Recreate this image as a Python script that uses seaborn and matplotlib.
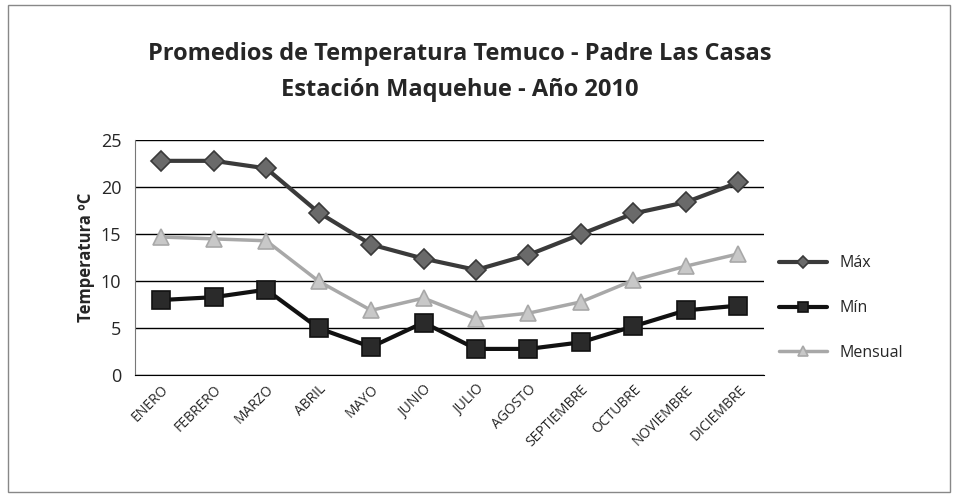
import matplotlib
matplotlib.use("Agg")
import matplotlib.pyplot as plt
import pandas as pd
import seaborn as sns
from matplotlib.patches import Rectangle

# Data
meses = ['ENERO', 'FEBRERO', 'MARZO', 'ABRIL', 'MAYO', 'JUNIO', 'JULIO',
         'AGOSTO', 'SEPTIEMBRE', 'OCTUBRE', 'NOVIEMBRE', 'DICIEMBRE']
t_max = [22.8, 22.8, 22.0, 17.3, 13.9, 12.4, 11.2, 12.8, 15.0, 17.2, 18.4, 20.5]
t_min = [8.0, 8.3, 9.1, 5.0, 3.0, 5.6, 2.8, 2.8, 3.5, 5.2, 6.9, 7.4]
t_mensual = [14.7, 14.5, 14.3, 10.0, 6.9, 8.2, 6.0, 6.6, 7.8, 10.1, 11.6, 12.9]

df = pd.DataFrame({'mes': meses * 3,
                   'temp': t_max + t_min + t_mensual,
                   'serie': ['Máx'] * 12 + ['Mín'] * 12 + ['Mensual'] * 12})
df['x'] = list(range(12)) * 3

sns.set_style('white')
plt.rcParams['font.family'] = ['Open Sans', 'DejaVu Sans']

fig = plt.figure(figsize=(9.58, 4.97), dpi=100)
ax = fig.add_axes([0.141, 0.245, 0.657, 0.473])

# outer chart border
fig.patches.append(Rectangle((0.008, 0.01), 0.984, 0.98, transform=fig.transFigure,
                             fill=False, edgecolor='#888888', linewidth=1))

palette = {'Máx': '#3a3a3a', 'Mín': '#111111', 'Mensual': '#a8a8a8'}
markers = {'Máx': 'D', 'Mín': 's', 'Mensual': '^'}
sizes = {'Máx': 10, 'Mín': 13, 'Mensual': 12}
widths = {'Máx': 3, 'Mín': 3, 'Mensual': 2.5}
mfc = {'Máx': '#6a6a6a', 'Mín': '#2a2a2a', 'Mensual': '#c8c8c8'}

for s in ['Máx', 'Mín', 'Mensual']:
    sub = df[df['serie'] == s]
    sns.lineplot(data=sub, x='x', y='temp', ax=ax, color=palette[s], linewidth=widths[s],
                 marker=markers[s], markersize=sizes[s], markerfacecolor=mfc[s],
                 markeredgecolor=palette[s], markeredgewidth=1.2, label=s)

ax.set_xlim(-0.5, 11.5)
ax.set_ylim(0, 25)
ax.set_yticks([0, 5, 10, 15, 20, 25])
ax.set_xticks(range(12))
ax.set_xticklabels(meses, rotation=45, ha='right', rotation_mode='anchor', fontsize=10)
ax.tick_params(axis='y', labelsize=13, length=0, pad=10)
ax.tick_params(axis='x', length=0, pad=5)
ax.yaxis.grid(True, color='black', linewidth=1)
ax.set_axisbelow(True)
for sp in ['top', 'right']:
    ax.spines[sp].set_visible(False)
ax.spines['left'].set_color('#777777')
ax.spines['bottom'].set_color('black')
ax.set_xlabel('')
ax.set_ylabel('Temperatura ºC', fontsize=12, fontweight='bold')

ax.legend(loc='center left', bbox_to_anchor=(1.0, 0.285), frameon=False,
          fontsize=11.5, handlelength=3, labelspacing=1.8, markerscale=0.6)

fig.suptitle('Promedios de Temperatura Temuco - Padre Las Casas\nEstación Maquehue - Año 2010',
             x=0.48, y=0.915, fontsize=17, fontweight='bold', linespacing=1.65)

fig.savefig('out.png', dpi=100)
